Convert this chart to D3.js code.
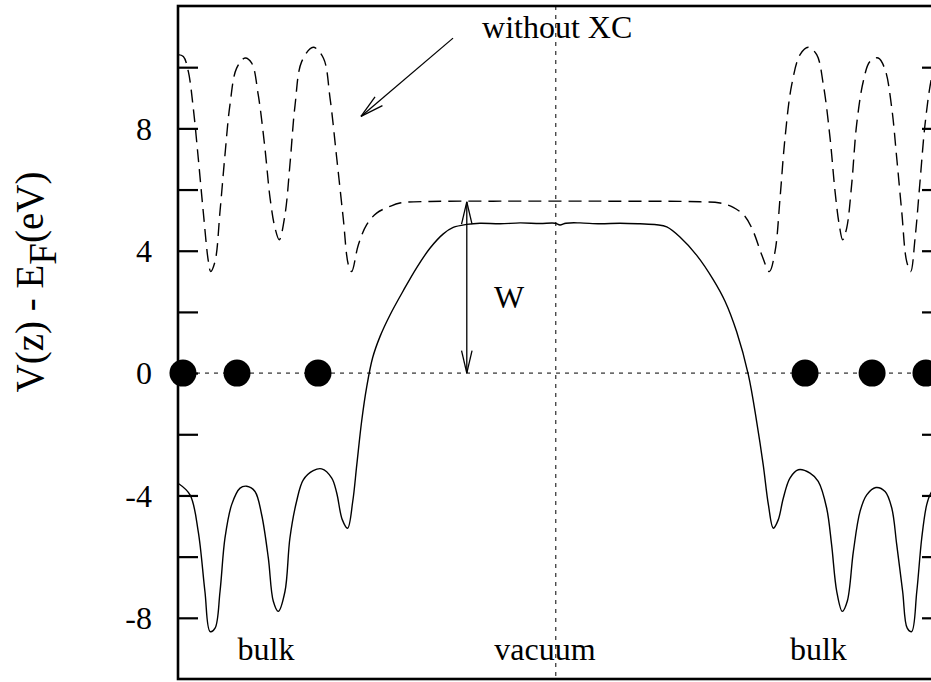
<!DOCTYPE html>
<html>
<head>
<meta charset="utf-8">
<script src="https://cdn.jsdelivr.net/npm/d3@7"></script>
<style>
  body { margin: 0; background: #fff; }
  svg text { font-family: "Liberation Serif", "Times New Roman", serif; fill: #000; }
</style>
</head>
<body>
<div id="chart"></div>
<script>
// potential profile across the slab, z in arbitrary length units, V in eV
const vTotal = [
  [0.00, -3.6], [0.63, -3.98], [1.06, -5.18], [1.41, -7.14], [1.68, -8.45], [1.94, -8.34],
  [2.20, -7.14], [2.46, -5.39], [2.81, -4.3], [3.25, -3.76], [3.60, -3.7], [4.03, -3.87],
  [4.38, -4.63], [4.73, -6.05], [4.99, -7.46], [5.25, -7.79], [5.60, -7.14], [5.86, -5.39],
  [6.21, -4.19], [6.56, -3.49], [7.08, -3.19], [7.52, -3.13], [8.05, -3.43], [8.31, -3.92],
  [8.60, -4.79], [8.88, -5.07], [9.15, -4.19], [9.36, -3.0], [9.62, -1.55], [9.88, -0.45],
  [10.19, 0.5], [10.58, 1.2], [11.10, 1.9], [11.80, 2.7], [12.50, 3.45], [13.19, 4.08],
  [13.89, 4.55], [14.41, 4.76], [15.12, 4.86], [15.81, 4.9], [16.86, 4.88], [17.91, 4.91],
  [18.95, 4.89], [19.74, 4.9], [20.00, 4.84], [20.31, 4.9], [21.05, 4.91], [22.09, 4.88],
  [23.14, 4.9], [24.19, 4.88], [25.06, 4.85], [25.59, 4.78], [26.28, 4.45], [27.16, 3.85],
  [28.03, 3.05], [28.64, 2.35], [29.25, 1.35], [29.86, -0.05], [30.30, -1.6], [30.64, -3.0],
  [30.91, -4.3], [31.17, -5.07], [31.43, -4.79], [31.69, -4.09], [32.04, -3.43], [32.48, -3.16],
  [33.09, -3.27], [33.52, -3.54], [33.96, -4.41], [34.22, -5.61], [34.49, -7.14], [34.78, -7.79],
  [35.04, -7.46], [35.36, -5.83], [35.71, -4.52], [36.06, -3.98], [36.54, -3.74], [37.02, -3.87],
  [37.37, -4.41], [37.63, -5.61], [37.94, -7.14], [38.18, -8.34], [38.41, -8.45], [38.68, -7.14],
  [38.94, -5.39], [39.20, -4.3], [39.42, -3.92], [39.69, -3.72], [40.00, -3.6]
];

// electrostatic part only (without exchange-correlation)
const vNoXC = [
  [0.00, 10.41], [0.28, 10.35], [0.54, 9.86], [0.80, 8.66], [1.06, 7.03], [1.32, 5.29],
  [1.59, 3.65], [1.71, 3.32], [1.94, 3.65], [2.20, 5.29], [2.46, 7.14], [2.72, 8.77],
  [3.07, 9.97], [3.51, 10.3], [3.86, 10.13], [4.20, 9.1], [4.55, 7.36], [4.82, 5.72],
  [5.08, 4.74], [5.30, 4.36], [5.60, 5.17], [5.86, 6.81], [6.13, 8.77], [6.48, 10.19],
  [7.08, 10.65], [7.61, 10.3], [7.96, 8.99], [8.31, 7.03], [8.65, 5.07], [8.92, 3.54],
  [9.09, 3.32], [9.44, 4.19], [9.88, 4.85], [10.40, 5.23], [11.10, 5.45], [11.62, 5.56],
  [13.19, 5.61], [16.86, 5.62], [22.09, 5.62], [27.33, 5.6], [28.38, 5.56], [29.07, 5.42],
  [29.69, 5.12], [30.12, 4.63], [30.56, 3.87], [30.96, 3.32], [31.26, 3.98], [31.52, 5.72],
  [31.78, 7.68], [32.13, 9.42], [32.57, 10.41], [33.00, 10.65], [33.44, 10.41], [33.79, 9.42],
  [34.14, 7.68], [34.40, 5.94], [34.62, 4.85], [34.80, 4.36], [35.01, 4.74], [35.27, 6.16],
  [35.53, 8.12], [35.88, 9.54], [36.23, 10.19], [36.66, 10.3], [37.02, 9.92], [37.37, 8.66],
  [37.63, 7.03], [37.89, 5.29], [38.15, 3.65], [38.36, 3.32], [38.59, 4.41], [38.85, 6.27],
  [39.11, 8.12], [39.42, 9.54], [39.69, 10.2], [40.00, 10.4]
];

const atomZ = [0.26, 3.09, 7.33, 32.83, 36.34, 39.16];
const yTicks = [-8, -6, -4, -2, 0, 2, 4, 6, 8, 10];
const yTickLabels = [-8, -4, 0, 4, 8];
const zVacuum = 19.78;
const workFunction = { z: 15.12, from: 0, to: 5.6 };

const FONT = '"Liberation Serif", "Times New Roman", serif';
const W = 931, H = 682;
const margin = { top: 6, right: -11, bottom: 3, left: 178 };
const width = W - margin.left - margin.right;
const height = H - margin.top - margin.bottom;

const svg = d3.select('#chart').append('svg')
    .attr('width', W)
    .attr('height', H);
const chart = svg.append('g')
    .attr('transform', `translate(${margin.left}, ${margin.top})`);

const xScale = d3.scaleLinear().domain([0, 40]).range([0, width]);
const yScale = d3.scaleLinear().domain([-10, 12]).range([height, 0]);

chart.append('defs').append('clipPath')
    .attr('id', 'plot_clip')
    .append('rect')
        .attr('width', width)
        .attr('height', height);

// zero line and vacuum centre line
chart.append('line')
    .attr('x1', 0).attr('x2', width)
    .attr('y1', yScale(0)).attr('y2', yScale(0))
    .attr('stroke', '#000').attr('stroke-width', 1)
    .attr('stroke-dasharray', '4,5');
chart.append('line')
    .attr('x1', xScale(zVacuum)).attr('x2', xScale(zVacuum))
    .attr('y1', 0).attr('y2', height)
    .attr('stroke', '#000').attr('stroke-width', 1)
    .attr('stroke-dasharray', '4,5');

const line = d3.line()
    .x(d => xScale(d[0]))
    .y(d => yScale(d[1]))
    .curve(d3.curveCatmullRom.alpha(0.5));

const plot = chart.append('g').attr('clip-path', 'url(#plot_clip)');
plot.append('path')
    .datum(vNoXC)
    .attr('d', line)
    .attr('fill', 'none')
    .attr('stroke', '#000')
    .attr('stroke-width', 1.4)
    .attr('stroke-dasharray', '13,7');
plot.append('path')
    .datum(vTotal)
    .attr('d', line)
    .attr('fill', 'none')
    .attr('stroke', '#000')
    .attr('stroke-width', 1.4);

// atoms
chart.selectAll('.atom')
    .data(atomZ)
    .join('circle')
        .attr('class', 'atom')
        .attr('cx', d => xScale(d))
        .attr('cy', yScale(0))
        .attr('r', 13.5)
        .attr('fill', '#000');

// axes: inward ticks both sides
const yAxisLeft = d3.axisLeft(yScale)
    .tickValues(yTicks)
    .tickSize(-20)
    .tickPadding(26)
    .tickFormat(d => yTickLabels.includes(d) ? String(d) : '');
const leftG = chart.append('g').call(yAxisLeft)
    .attr('font-family', FONT)
    .attr('font-size', 32);
leftG.select('.domain').remove();
leftG.selectAll('.tick line').attr('stroke-width', 2.2);
leftG.selectAll('.tick text')
    .attr('font-family', FONT)
    .style('font-family', FONT)
    .style('font-size', '32px')
    .attr('dy', '0.34em');

const rightG = chart.append('g')
    .attr('transform', `translate(${width}, 0)`)
    .call(d3.axisRight(yScale).tickValues(yTicks).tickSize(-20).tickFormat(''));
rightG.select('.domain').remove();
rightG.selectAll('.tick line').attr('stroke-width', 2.2);

chart.append('rect')
    .attr('width', width)
    .attr('height', height)
    .attr('fill', 'none')
    .attr('stroke', '#000')
    .attr('stroke-width', 2.6);

// arrows
function arrowHead(g, x0, y0, x1, y1, len, spread) {
    const a = Math.atan2(y0 - y1, x0 - x1);
    [-spread, spread].forEach(s => {
        g.append('line')
            .attr('x1', x1).attr('y1', y1)
            .attr('x2', x1 + len * Math.cos(a + s))
            .attr('y2', y1 + len * Math.sin(a + s))
            .attr('stroke', '#000').attr('stroke-width', 1.3);
    });
}

const ann = chart.append('g');
const wx = xScale(workFunction.z);
const wy0 = yScale(workFunction.from), wy1 = yScale(workFunction.to);
ann.append('line')
    .attr('x1', wx).attr('x2', wx).attr('y1', wy0).attr('y2', wy1)
    .attr('stroke', '#000').attr('stroke-width', 1.3);
arrowHead(ann, wx, wy0, wx, wy1, 23, 0.23);
arrowHead(ann, wx, wy1, wx, wy0, 23, 0.23);

const ax0 = xScale(14.4), ay0 = yScale(10.95);
const ax1 = xScale(9.58), ay1 = yScale(8.39);
ann.append('line')
    .attr('x1', ax0).attr('y1', ay0).attr('x2', ax1).attr('y2', ay1)
    .attr('stroke', '#000').attr('stroke-width', 1.3);
arrowHead(ann, ax0, ay0, ax1, ay1, 24, 0.24);

// labels
ann.append('text')
    .attr('x', xScale(15.92)).attr('y', yScale(10.95))
    .style('font-family', FONT)
    .style('font-size', '32px')
    .text('without XC');
ann.append('text')
    .attr('x', xScale(17.33)).attr('y', yScale(2.12))
    .attr('text-anchor', 'middle')
    .style('font-family', FONT)
    .style('font-size', '32px')
    .text('W');
[['bulk', 4.61], ['vacuum', 19.21], ['bulk', 33.53]].forEach(([t, z]) => {
    ann.append('text')
        .attr('x', xScale(z)).attr('y', yScale(-9.38))
        .attr('text-anchor', 'middle')
        .style('font-family', FONT)
        .style('font-size', '32px')
        .text(t);
});

const ylab = svg.append('text')
    .attr('transform', `translate(43, 282) rotate(-90)`)
    .attr('text-anchor', 'middle')
    .style('font-family', FONT)
    .style('font-size', '39px');
ylab.append('tspan').text('V(z) - E');
ylab.append('tspan').attr('dy', 13).text('F');
ylab.append('tspan').attr('dy', -13).text('(eV)');
</script>
</body>
</html>
